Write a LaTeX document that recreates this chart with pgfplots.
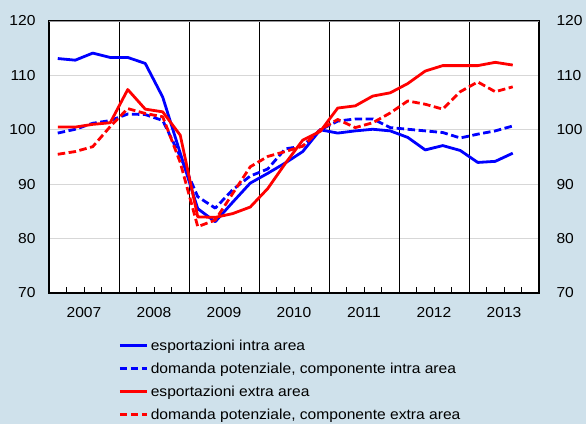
\documentclass[border=0pt]{standalone}
\usepackage{pgfplots}
\pgfplotsset{compat=1.18}
\usepackage{pgfplotstable}
\usepackage{fontspec}
\setmainfont[FakeStretch=1.08]{Liberation Sans}
\usetikzlibrary{backgrounds}
\definecolor{bgc}{RGB}{207,225,235}
\definecolor{gridc}{RGB}{215,215,215}
\definecolor{topc}{RGB}{150,150,155}
\pgfplotstableread{
x bs bd rs rd
0.5 113.1 99.4 100.5 95.5
1.5 112.8 100.1 100.5 96.0
2.5 114.1 101.2 101.0 96.9
3.5 113.3 101.7 101.3 100.6
4.5 113.3 102.9 107.4 103.9
5.5 112.2 102.8 103.8 103.0
6.5 106.0 101.7 103.3 102.4
7.5 95.7 95.1 99.0 94.0
8.5 85.5 87.7 84.0 82.2
9.5 83.1 85.6 83.9 83.4
10.5 86.7 89.0 84.6 88.3
11.5 90.2 91.5 85.8 93.2
12.5 92.0 92.8 89.2 95.1
13.5 93.9 96.5 93.8 96.0
14.5 96.0 97.0 98.1 97.0
15.5 100.0 100.0 99.7 100.0
16.5 99.4 101.6 104.0 101.9
17.5 99.8 102.0 104.4 100.4
18.5 100.1 102.0 106.2 101.3
19.5 99.8 100.4 106.8 103.1
20.5 98.6 100.1 108.5 105.3
21.5 96.3 99.8 110.8 104.7
22.5 97.1 99.5 111.8 103.8
23.5 96.2 98.5 111.8 107.0
24.5 94.0 99.2 111.8 108.8
25.5 94.2 99.8 112.4 107.0
26.5 95.7 100.7 111.9 107.9
}\data
\newcommand{\tf}{\fontsize{14.5}{17}\selectfont}
\begin{document}
\begin{tikzpicture}
\begin{axis}[name=ax, at={(0,0)}, anchor=south west,
  scale only axis, width=490bp, height=272bp,
  xmin=0, xmax=28, ymin=70, ymax=120,
  axis background/.style={fill=white},
  axis line style={black, line width=1.2bp},
  /pgf/number format/assume math mode=true,
  tick label style={font=\tf},
  xtick={2,6,...,26}, xticklabels={2007,2008,2009,2010,2011,2012,2013},
  minor xtick={1,2,...,27},
  xtick pos=bottom, ytick pos=left, tick align=inside,
  major tick length=0pt,
  minor tick length=6bp, minor tick style={black, line width=1bp},
  xticklabel style={yshift=-11bp},
  ytick={70,80,...,120},
  ymajorgrids, y grid style={gridc, line width=0.8bp},
  extra x ticks={4,8,...,24}, extra x tick labels={},
  extra x tick style={grid=major, major grid style={black, line width=1bp}},
  yticklabel style={xshift=-10bp},
  legend style={at={(axis description cs:0.141,-0.162)}, anchor=north west, draw=none, fill=none,
    font=\tf, legend cell align=left, row sep=6bp, inner sep=0pt,
    nodes={inner sep=2.5bp}},
  legend image code/.code={\draw[#1, line width=3bp] (0bp,0bp) -- (27bp,0bp);},
  every axis plot/.append style={line width=2.8bp, line join=round},
]
\addplot[blue, no marks] table[x=x, y=bs] {\data};
\addlegendentry{esportazioni intra area}
\addplot[blue, no marks, dash pattern=on 7.5bp off 3.5bp] table[x=x, y=bd] {\data};
\addlegendentry{domanda potenziale, componente intra area}
\addplot[red, no marks] table[x=x, y=rs] {\data};
\addlegendentry{esportazioni extra area}
\addplot[red, no marks, dash pattern=on 7.5bp off 3.5bp] table[x=x, y=rd] {\data};
\addlegendentry{domanda potenziale, componente extra area}
\draw[topc, line width=1.2bp] (rel axis cs:0,1) -- (rel axis cs:1,1);
\end{axis}
\begin{axis}[at={(0,0)}, anchor=south west,
  scale only axis, width=490bp, height=272bp,
  xmin=0, xmax=28, ymin=70, ymax=120,
  hide x axis, axis y line*=right, y axis line style={draw=none},
  /pgf/number format/assume math mode=true,
  ytick={70,80,...,120}, major tick length=0pt,
  yticklabel style={font=\tf, anchor=west, xshift=14bp},
]
\addplot[draw=none] coordinates {(0,70)};
\end{axis}
\begin{scope}[on background layer]
\fill[bgc] ([xshift=-49bp,yshift=-131bp]ax.south west) rectangle ([xshift=47bp,yshift=21bp]ax.north east);
\end{scope}
\pgfresetboundingbox
\path[use as bounding box] ([xshift=-49bp,yshift=-131bp]ax.south west) rectangle ([xshift=47bp,yshift=21bp]ax.north east);
\end{tikzpicture}
\end{document}
